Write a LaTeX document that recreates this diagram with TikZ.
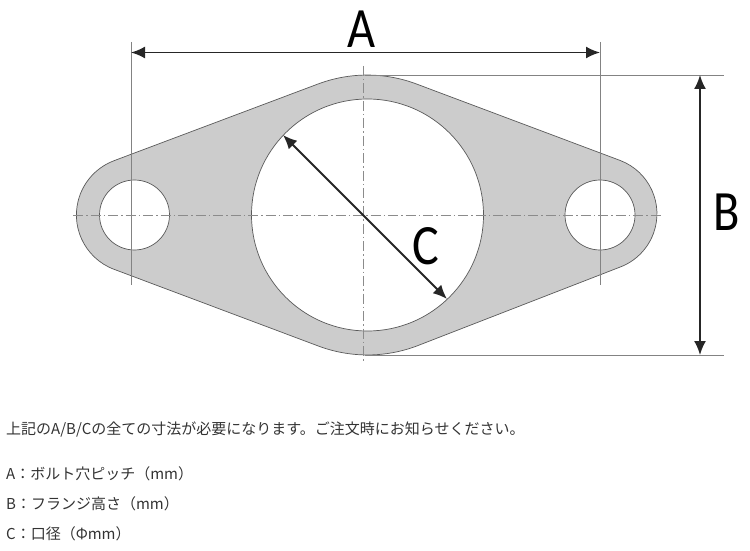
\documentclass[tikz,border=0pt]{standalone}
\usepackage{fontspec}
\usepackage{graphicx}
\setmainfont{Carlito}
\newfontfamily\jpfont{Noto Sans CJK JP}
\usetikzlibrary{arrows.meta}
\definecolor{plate}{HTML}{CCCCCC}
\definecolor{edge}{HTML}{5A5A5A}
\definecolor{txt}{HTML}{333333}
\tikzset{
  ext/.style={draw=edge!75,line width=0.7pt},
  centre/.style={draw=edge!70,line width=0.8pt,dash pattern=on 10pt off 3pt on 1.5pt off 3pt},
  dim/.style={draw=black!85,line width=1.8pt,{Latex[length=14pt,width=12pt]}-{Latex[length=14pt,width=12pt]}},
  biglabel/.style={font=\fontsize{57}{57}\selectfont,text=black,inner sep=0pt},
  note/.style={font=\jpfont\fontsize{15}{17}\selectfont,text=txt,anchor=west,inner sep=0pt}
}
\begin{document}
\begin{tikzpicture}[x=1pt,y=1pt]
\useasboundingbox (0,0) rectangle (750,550);
% plate
\path[fill=plate,draw=edge,line width=0.7pt,even odd rule]
  (114,389.3) -- (318,466) arc[start angle=110.6,end angle=69.4,radius=140]
  -- (620,389.6) arc[start angle=69.4,end angle=-69.4,radius=57]
  -- (416.8,204) arc[start angle=-69.4,end angle=-110.6,radius=140]
  -- (114,280.7) arc[start angle=-110.6,end angle=-249.4,radius=58] -- cycle
  (367.5,335) circle[radius=116]
  (134.5,335) circle[radius=35]
  (600,335) circle[radius=35];
% coordinates
\coordinate (aL) at (131,497.5);
\coordinate (aR) at (600,497.5);
\coordinate (bT) at (700,475);
\coordinate (bB) at (700,195);
\coordinate (cA) at (283,415);
\coordinate (cB) at (447,251);
% extension lines
\draw[ext] (131,508) -- (131,265);
\draw[ext] (600,508) -- (600,265);
\draw[ext] (365,475) -- (724,475);
\draw[ext] (365,195) -- (724,195);
% centre lines
\draw[centre] (73,335) -- (663,335);
\draw[centre] (363.5,484) -- (363.5,188);
% dimensions
\draw[dim] (aL) -- (aR);
\draw[dim] (bT) -- (bB);
\draw[dim] (cA) -- (cB);
\node[biglabel] (la) at (361.5,521) {\scalebox{.85}[1]{A}};
\node[biglabel] (lb) at (726.5,338) {\scalebox{.85}[1]{B}};
\node[biglabel] (lc) at (426,304) {\scalebox{.88}[1]{C}};
% notes
\node[note] (n1) at (6,121) {上記のA/B/Cの全ての寸法が必要になります。ご注文時にお知らせください。};
\node[note] (n2) at (6,76) {A：ボルト穴ピッチ（mm）};
\node[note] (n3) at (6,46) {B：フランジ高さ（mm）};
\node[note] (n4) at (6,16) {C：口径（Φmm）};
\end{tikzpicture}
\end{document}
